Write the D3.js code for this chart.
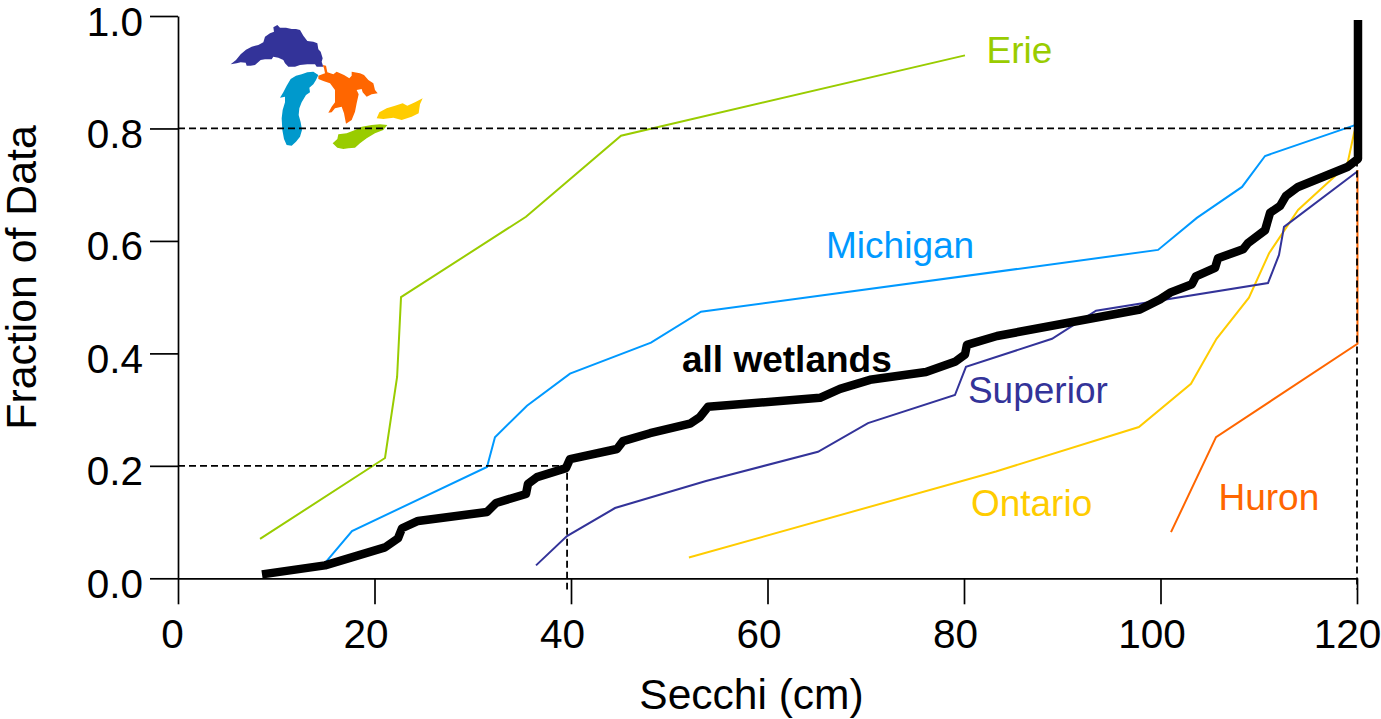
<!DOCTYPE html>
<html><head><meta charset="utf-8">
<script src="https://cdn.jsdelivr.net/npm/d3@7"></script>
<style>html,body{margin:0;padding:0;background:#fff}svg{display:block}text{font-family:"Liberation Sans",Arial,sans-serif}</style>
</head><body><svg id="c" width="1381" height="719"></svg>
<script>
const xTicks=[0,20,40,60,80,100,120];
const yTicks=[0,0.2,0.4,0.6,0.8,1.0];
const allX=[8.55,14.96,21.07,22.39,22.8,24.43,31.45,32.37,35.42,35.62,36.54,39.49,39.9,44.68,45.29,48.04,52.11,53.13,53.94,65.34,67.38,70.43,76.13,79.08,80.1,80.3,83.36,97.91,99.95,100.97,103.2,103.6,105.55,105.85,108.4,108.9,110.64,111.15,112.16,112.77,114,119.08,120.1,120.1];
const allY=[.007,.023,.055,.071,.089,.102,.118,.134,.15,.168,.18,.196,.212,.23,.244,.258,.275,.287,.305,.321,.337,.353,.367,.385,.398,.415,.431,.478,.496,.508,.523,.537,.552,.569,.585,.596,.619,.65,.662,.68,.696,.732,.746,.993];
const erieX=[8.35,21.07,22.3,22.7,35.42,45.09,80.1];
const erieY=[.07,.214,.358,.5,.643,.787,.93];
const michiganX=[14.76,17.71,31.45,32.26,35.52,39.9,48.14,53.23,99.75,103.7,108.3,110.64,119.8];
const michiganY=[.023,.084,.198,.251,.307,.364,.419,.474,.584,.641,.696,.751,.806];
const superiorX=[36.44,39.59,44.48,53.74,65.14,70.23,79.08,80.2,88.96,93.44,110.94,112.06,112.57,120];
const superiorY=[.023,.075,.125,.173,.225,.276,.326,.376,.426,.476,.525,.575,.625,.723];
const ontarioX=[52,83.25,97.8,103.1,105.7,109,111.05,114,119,119.7,120];
const ontarioY=[.037,.19,.269,.346,.426,.499,.578,.655,.735,.792,.809];
const huronX=[101.07,105.65,120.05,120.05];
const huronY=[.082,.251,.417,.726];
const guideLow=[[0,.2],[39.6,.2],[39.6,-.02]];
const guideHigh=[[0,.8],[120,.8],[120,-.02]];
const seriesNames=["Erie","Michigan","Superior","Ontario","Huron"];
const seriesColors=["#99cc00","#0099ff","#333399","#ffcc00","#ff6600"];
const superiorLake=[[32,148],[48,135],[62,118],[78,104],[95,95],[115,90],[130,82],[135,65],[150,55],[162,50],[160,37],[172,30],[180,38],[198,38],[215,42],[228,42],[240,45],[250,62],[262,78],[280,80],[292,85],[295,103],[302,110],[308,130],[305,140],[310,155],[290,155],[285,148],[262,148],[240,150],[225,155],[205,155],[195,145],[190,135],[175,128],[160,125],[155,133],[135,133],[122,135],[105,150],[92,152],[80,152],[77,143],[62,142],[50,145]];
const michiganLake=[[180,248],[190,232],[200,212],[212,192],[228,182],[245,178],[262,172],[280,170],[295,180],[288,195],[280,208],[268,218],[270,232],[258,240],[245,262],[238,280],[236,300],[242,322],[246,345],[240,365],[228,380],[215,392],[200,390],[192,372],[187,345],[185,310],[188,285],[195,262],[195,245]];
const huronLake=[[308,150],[318,152],[322,172],[340,178],[350,170],[372,180],[388,190],[395,182],[395,170],[420,175],[432,180],[445,195],[460,205],[465,225],[473,235],[455,238],[440,245],[428,232],[425,222],[410,225],[416,238],[410,265],[405,290],[395,315],[378,326],[372,295],[365,275],[345,280],[335,292],[325,293],[335,275],[345,262],[345,225],[330,205],[310,198],[295,192],[295,182],[315,175],[312,160]];
const ontarioLake=[[470,310],[478,292],[500,280],[525,272],[548,265],[562,272],[585,262],[608,250],[600,268],[596,295],[575,305],[545,315],[520,308],[490,312]];
const erieLake=[[338,385],[352,372],[355,358],[380,355],[405,345],[425,335],[455,330],[480,328],[502,330],[490,345],[465,355],[440,370],[420,385],[405,398],[385,400],[370,402],[352,398]];
const lakeColors=["#333399","#0099cc","#ff6600","#ffcc00","#99cc00"];

const svg=d3.select("#c");
const x=d3.scaleLinear().domain([0,120]).range([178,1357]);
const y=d3.scaleLinear().domain([0,1]).range([578.3,16]);
const line=d3.line().x(d=>x(d[0])).y(d=>y(d[1]));
const zip=(a,b)=>a.map((v,i)=>[v,b[i]]);
const FS=40.5;

// lake map
const mx=d3.scaleLinear().domain([0,660]).range([220,440]);
const my=d3.scaleLinear().domain([0,435]).range([15,160]);
const lakeLine=d3.line().x(d=>mx(d[0])).y(d=>my(d[1])).curve(d3.curveLinearClosed);
svg.append("g").selectAll("path").data([superiorLake,michiganLake,huronLake,ontarioLake,erieLake]).join("path")
  .attr("d",lakeLine).attr("fill",(d,i)=>lakeColors[i]);

// axes
const ax=svg.append("g").attr("transform","translate(0,578.3)")
  .call(d3.axisBottom(x).tickValues(xTicks).tickSize(26).tickSizeOuter(0).tickFormat(d3.format("d")));
const ay=svg.append("g").attr("transform","translate(178,0)")
  .call(d3.axisLeft(y).tickValues(yTicks).tickSize(28).tickSizeOuter(0).tickFormat(d3.format(".1f")));
[ax,ay].forEach(a=>{a.selectAll("path,line").attr("stroke","#000").attr("stroke-width",1.7);
  a.selectAll("text").attr("fill","#000").style("font-size",FS+"px").style("font-family",'"Liberation Sans",Arial,sans-serif');});
ax.selectAll("text").attr("y",0).attr("dy",0).attr("transform",d=>`translate(${d===0?-6:d===120?-10:-9},70)`);
ay.selectAll("text").attr("x",-35).attr("dy",0).attr("transform","translate(0,19)");

// series
const data=[zip(erieX,erieY),zip(michiganX,michiganY),zip(superiorX,superiorY),zip(ontarioX,ontarioY),zip(huronX,huronY)];
svg.append("g").selectAll("path").data([data[3],data[4],data[1],data[0],data[2]]).join("path")
  .attr("d",line).attr("fill","none").attr("stroke-width",2)
  .attr("stroke",(d,i)=>seriesColors[[3,4,1,0,2][i]]);

// guides
svg.append("g").selectAll("path").data([guideLow,guideHigh]).join("path")
  .attr("d",line).attr("fill","none").attr("stroke","#000").attr("stroke-width",1.8).attr("stroke-dasharray","7,4");

svg.append("path").datum(zip(allX,allY)).attr("d",line).attr("fill","none").attr("stroke","#000").attr("stroke-width",8.5).attr("stroke-linejoin","round");

// labels
const labelPos=[[82.3,.917],[65.96,.569],[80.4,.312],[80.7,.111],[105.9,.122]];
svg.append("g").selectAll("text").data(seriesNames).join("text")
  .attr("x",(d,i)=>x(labelPos[i][0])).attr("y",(d,i)=>y(labelPos[i][1])).attr("fill",(d,i)=>seriesColors[i])
  .style("font-size","37px").text(d=>d);
svg.append("text").attr("x",x(51.3)).attr("y",y(.367)).style("font-size","37px").style("font-weight","bold").text("all wetlands");
svg.append("text").attr("x",751.5).attr("y",709).attr("text-anchor","middle").style("font-size","42.5px").text("Secchi (cm)");
svg.append("text").attr("transform","translate(36,277.5) rotate(-90)").attr("text-anchor","middle").style("font-size","42.8px").text("Fraction of Data");
</script></body></html>
